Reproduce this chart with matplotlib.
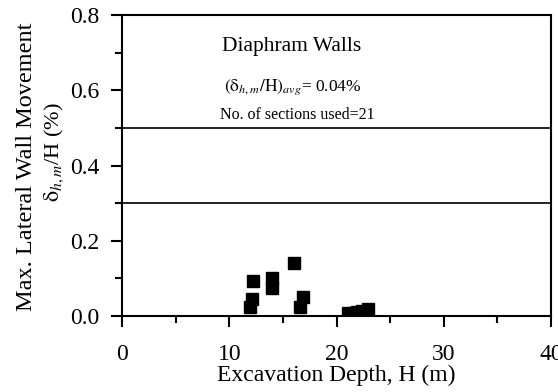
import numpy as np
import matplotlib.pyplot as plt
from matplotlib.ticker import MultipleLocator

# excavation depth H (m) and normalised max lateral wall movement (%)
depth = [12.2, 12.1, 11.9, 14.0, 14.0, 16.0, 16.9, 16.6, 21.1, 21.6, 21.9, 22.4, 22.9]
movement = [0.092, 0.045, 0.023, 0.100, 0.074, 0.140, 0.051, 0.025, 0.007, 0.009, 0.011, 0.014, 0.018]

# reference levels drawn across the plot
levels = [0.5, 0.3]

x_ticks = [0, 10, 20, 30, 40]
y_ticks = [0.0, 0.2, 0.4, 0.6, 0.8]
y_ticklabels = ["0.0", "0.2", "0.4", "0.6", "0.8"]

plt.rcParams['font.family'] = ['Liberation Serif', 'DejaVu Serif']
plt.rcParams['mathtext.fontset'] = 'stix'

fig = plt.figure(figsize=(5.58, 3.92), dpi=100)
ax = fig.add_axes([122 / 558, 1 - 316 / 392, (551 - 122) / 558, (316 - 15) / 392])

ax.plot(depth, movement, linestyle='none', marker='s', markersize=8,
        color='black', markeredgecolor='black')

for lv in levels:
    ax.axhline(lv, color='black', linewidth=1.2)

ax.set_xlim(0, 40)
ax.set_ylim(0, 0.8)
ax.set_xticks(x_ticks)
ax.set_yticks(y_ticks)
ax.set_yticklabels(y_ticklabels)
ax.xaxis.set_minor_locator(MultipleLocator(5))
ax.yaxis.set_minor_locator(MultipleLocator(0.1))
ax.tick_params(which='major', direction='out', length=8, width=1.5, labelsize=17)
ax.tick_params(which='minor', direction='out', length=5, width=1.5)
ax.tick_params(axis='x', pad=12)
ax.tick_params(axis='y', pad=8)
for s in ax.spines.values():
    s.set_linewidth(1.5)

ax.set_xlabel("Excavation Depth, H (m)", fontsize=17, labelpad=0)
fig.text(27 / 558, 1 - 167 / 392, "Max. Lateral Wall Movement", rotation=90,
         fontsize=17.5, ha='center', va='center')
fig.text(54 / 558, 1 - 152 / 392, r"$\mathrm{\delta}_{h,m}$/H (%)", rotation=90,
         fontsize=16, ha='center', va='center')

ax.text(15.8, 0.717, "Diaphram Walls", fontsize=15.5, ha='center', va='center')
ax.text(15.9, 0.607, r"$(\mathrm{\delta}_{h,m}/\mathrm{H})_{avg}$= 0.04%", fontsize=12.5,
        ha='center', va='center')
ax.text(16.3, 0.535, "No. of sections used=21", fontsize=11.5,
        ha='center', va='center')

fig.savefig('out.png', dpi=100)
